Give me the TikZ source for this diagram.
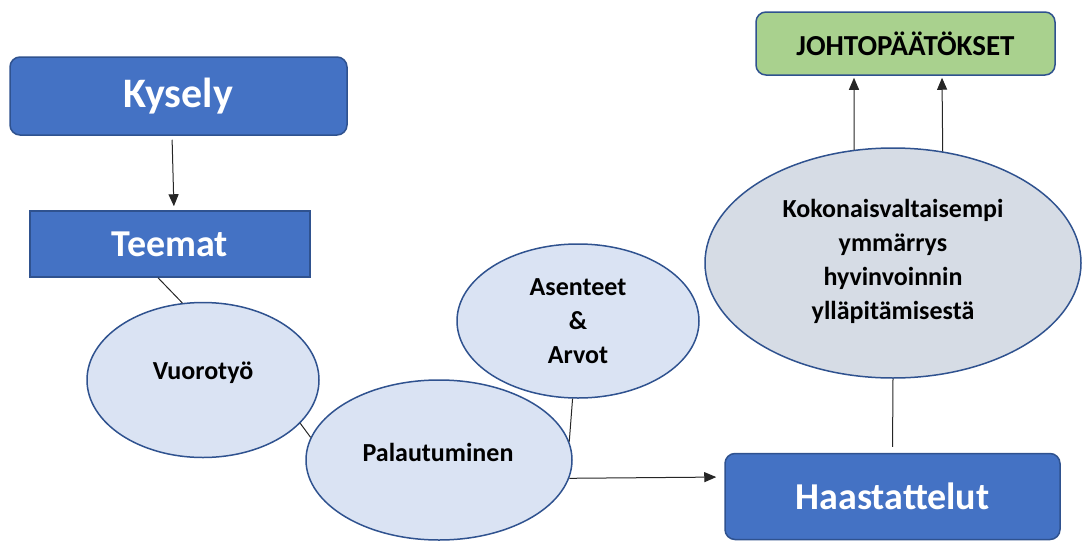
\documentclass[tikz,border=0pt]{standalone}
\usepackage{fontspec}
\setmainfont{Carlito}
\usetikzlibrary{shapes.geometric,arrows.meta}
\definecolor{boxblue}{HTML}{4472C4}
\definecolor{edgeblue}{HTML}{2F528F}
\definecolor{bubblefill}{HTML}{DAE3F3}
\definecolor{bigfill}{HTML}{D6DCE5}
\definecolor{greenfill}{HTML}{A9D18E}

\begin{document}
\begin{tikzpicture}[x=1pt,y=-1pt,
    bluebox/.style={draw=edgeblue, line width=1.5pt, fill=boxblue, text=white,
        font=\bfseries\fontsize{38}{42}\selectfont, inner sep=0pt},
    bubble/.style={ellipse, draw=edgeblue, line width=1.5pt, fill=bubblefill, inner sep=0pt},
    bubbletext/.style={font=\bfseries\fontsize{26}{34}\selectfont, align=center},
    link/.style={line width=1pt, draw=black!85},
    arrow/.style={link, -{Triangle[length=12pt,width=10pt]}}]
    \useasboundingbox (0,0) rectangle (1082,541);

    % Draw the boxes
    \node[bluebox, rounded corners=10pt, minimum width=337pt, minimum height=78pt,
        font=\bfseries\fontsize{42}{46}\selectfont] (kysely) at (178.5,96) {Kysely};
    \node[bluebox, minimum width=280pt, minimum height=66pt] (teemat) at (170,244) {Teemat};
    \node[bluebox, rounded corners=10pt, minimum width=335pt, minimum height=86pt] (haast) at (892.5,496.5) {Haastattelut};
    \node[draw=edgeblue, line width=1.5pt, fill=greenfill, rounded corners=10pt, minimum width=299pt,
        minimum height=63pt, font=\bfseries\fontsize{29}{33}\selectfont] (johto) at (905.5,43.5) {JOHTOPÄÄTÖKSET};

    % Draw the ellipses
    \node[bubble, minimum width=232pt, minimum height=155pt] (vuoro) at (203,380) {};
    \node[bubble, minimum width=266pt, minimum height=160pt] (palau) at (439,460) {};
    \node[bubble, minimum width=242pt, minimum height=154pt] (asen) at (578,321) {};
    \node[bubble, fill=bigfill, minimum width=376pt, minimum height=230pt] (big) at (893,263) {};

    % Texts of the ellipses
    \node[bubbletext] (vuorotext) at (203,373) {Vuorotyö};
    \node[bubbletext] (palautext) at (438,452) {Palautuminen};
    \node[bubbletext] (asentext) at (578,321) {Asenteet\\\&\\Arvot};
    \node[bubbletext] (bigtext) at (893,261) {Kokonaisvaltaisempi\\ymmärrys\\hyvinvoinnin\\ylläpitämisestä};

    % Draw the connectors
    \draw[arrow, shorten <=4pt, shorten >=4pt] ([xshift=-6.5pt]kysely.south) -- ([xshift=4pt]teemat.north);
    \draw[link] ([xshift=-12pt]teemat.south) -- (vuoro.105.6);
    \draw[link] (vuoro.-24.9) -- (palau.170.1);
    \draw[link] (asen.266.4) -- (palau.8.9);
    \draw[arrow, shorten >=8pt] (palau.-8.4) -- ([yshift=19.5pt]haast.west);
    \draw[link, shorten <=6pt] (haast.north) -- (big.south);
    \foreach \a/\dx in {109.1/-51.5, 66.2/36.5}
        \draw[arrow, shorten >=2pt] (big.\a) -- ([xshift=\dx pt]johto.south);

\end{tikzpicture}
\end{document}
